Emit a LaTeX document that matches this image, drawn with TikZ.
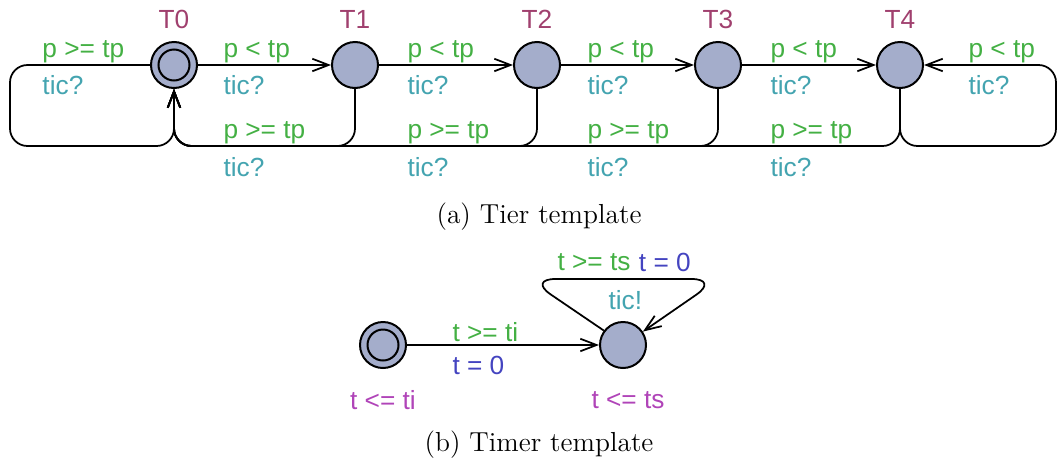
\documentclass[tikz,border=0pt]{standalone}
\usepackage{fontspec}
\newfontfamily\uppfont{Liberation Sans}
\usetikzlibrary{arrows.meta}
\definecolor{locfill}{HTML}{A4ADCB}
\definecolor{namecol}{HTML}{A0406E}
\definecolor{guardcol}{HTML}{44B044}
\definecolor{synccol}{HTML}{44A4B0}
\definecolor{assigncol}{HTML}{4444C0}
\definecolor{invcol}{HTML}{B044B8}
\tikzset{
  loc/.style={circle,draw=black,fill=locfill,line width=0.8pt,minimum size=18.4pt,inner sep=0pt},
  initloc/.style={loc,path picture={\draw[line width=0.8pt] (path picture bounding box.center) circle (6.2pt);}},
  lbl/.style={font=\uppfont\fontsize{10.5}{12}\selectfont,inner sep=0pt},
  locname/.style={lbl,text=namecol},
  guard/.style={lbl,text=guardcol,anchor=west},
  sync/.style={lbl,text=synccol,anchor=west},
  assign/.style={lbl,text=assigncol,anchor=west},
  inv/.style={lbl,text=invcol},
  edge/.style={line width=0.7pt,rounded corners=7pt,-{Straight Barb[length=6.5pt,width=5pt]}},
  caption/.style={font=\fontsize{11}{13}\selectfont}
}
\begin{document}
\begin{tikzpicture}[x=0.4pt,y=-0.4pt]
  \useasboundingbox (0,0) rectangle (1058,467);
  % tier template
  \node[initloc] (T0) at (174,65) {};
  \node[loc] (T1) at (355,65) {};
  \node[loc] (T2) at (537,65) {};
  \node[loc] (T3) at (718,65) {};
  \node[loc] (T4) at (900,65) {};
  \foreach \i in {0,...,4}
    \node[locname,anchor=base] at ([yshift=5pt]T\i.north) {T\i};
  \coordinate (c0) at (10,146);
  \coordinate (c4) at (1056,146);
  \draw[edge] (T0.west) -| (c0) -| (T0.south);
  \draw[edge] (T0) -- (T1);
  \draw[edge] (T1) -- (T2);
  \draw[edge] (T2) -- (T3);
  \draw[edge] (T3) -- (T4);
  \draw[edge] (T1.south) |- (T0 |- c0) -- (T0.south);
  \draw[edge] (T2.south) |- (T0 |- c0) -- (T0.south);
  \draw[edge] (T3.south) |- (T0 |- c0) -- (T0.south);
  \draw[edge] (T4.south) |- (T0 |- c0) -- (T0.south);
  \draw[edge] (T4.south) |- (c4) |- (T4.east);
  \node[guard] (g00) at (42,52) {p >= tp};
  \node[sync] (s00) at (42,85) {tic?};
  \node[guard] (g44) at (968,52) {p < tp};
  \node[sync] (s44) at (968,85) {tic?};
  \foreach \x in {223,407,587,770} {
    \node[guard] at (\x,52) {p < tp};
    \node[sync] at (\x,85) {tic?};
    \node[guard] at (\x,133) {p >= tp};
    \node[sync] at (\x,167) {tic?};
  }
  \node[caption] (capa) at (539,217) {(a) Tier template};
  % timer template
  \node[initloc] (I0) at (383,345) {};
  \node[loc] (I1) at (623,345) {};
  \coordinate (k1) at (528,279);
  \coordinate (k2) at (719,279);
  \draw[edge] (I0) -- (I1);
  \draw[edge,rounded corners=11pt] (I1.143) -- (k1) -- (k2) -- (I1.34);
  \node[guard] (g01) at (452,332) {t >= ti};
  \node[assign] (a01) at (452,365) {t = 0};
  \node[guard] (g11) at (557,262) {t >= ts};
  \node[assign] (a11) at ([xshift=3pt]g11.east) {t = 0};
  \node[sync] (s11) at (608,300) {tic!};
  \node[inv] (i0) at (383,400) {t <= ti};
  \node[inv] (i1) at (628,400) {t <= ts};
  \node[caption] (capb) at (539,445) {(b) Timer template};
\end{tikzpicture}
\end{document}
